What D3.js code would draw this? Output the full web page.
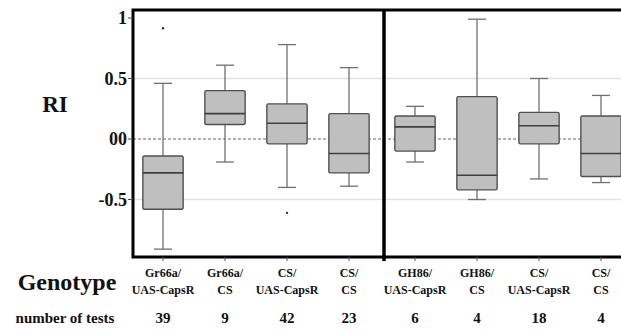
<!DOCTYPE html>
<html>
<head>
<meta charset="utf-8">
<script src="https://cdn.jsdelivr.net/npm/d3@7"></script>
<style>
  body { margin: 0; background: #fff; }
  text { font-family: "Liberation Serif", "Times New Roman", serif; font-weight: bold; fill: #111; }
</style>
</head>
<body>
<svg id="chart" width="621" height="332"></svg>
<script>
// genotypes, panel (0 = Gr66a, 1 = GH86)
var line1 = ["Gr66a/", "Gr66a/", "CS/", "CS/", "GH86/", "GH86/", "CS/", "CS/"]
var line2 = ["UAS-CapsR", "CS", "UAS-CapsR", "CS", "UAS-CapsR", "CS", "UAS-CapsR", "CS"]
var panel = [0, 0, 0, 0, 1, 1, 1, 1]
var nTests = [39, 9, 42, 23, 6, 4, 18, 4]

// box statistics
var whiskLo = [-0.91, -0.19, -0.40, -0.39, -0.19, -0.50, -0.33, -0.36]
var q1      = [-0.58,  0.12, -0.04, -0.28, -0.10, -0.42, -0.04, -0.31]
var median  = [-0.28,  0.21,  0.13, -0.12,  0.10, -0.30,  0.11, -0.12]
var q3      = [-0.14,  0.40,  0.29,  0.21,  0.19,  0.35,  0.22,  0.19]
var whiskHi = [ 0.46,  0.61,  0.78,  0.59,  0.27,  0.99,  0.50,  0.36]
// outliers [index, value]
var outliers = [[0, 0.915], [2, -0.61]]

var yTicks = [1, 0.5, 0, -0.5]
var yTickLabels = ["1", "0.5", "00", "-0.5"]

var svg = d3.select("#chart")
var plotTop = 10, plotBottom = 257, plotLeft = 133, divider = 384, plotRight = 640

var y = d3.scaleLinear().domain([-0.975, 1.066]).range([plotBottom, plotTop])

var idx = d3.range(line1.length)
var xLeft = d3.scaleBand().domain(idx.filter(function(i){ return panel[i] == 0 }))
  .range([132, 380]).paddingInner(0.35).paddingOuter(0.175)
var xRight = d3.scaleBand().domain(idx.filter(function(i){ return panel[i] == 1 }))
  .range([384, 632]).paddingInner(0.35).paddingOuter(0.175)
function xPos(i){ return panel[i] == 0 ? xLeft(i) : xRight(i) }
function xMid(i){ return xPos(i) + xLeft.bandwidth() / 2 }
var bw = xLeft.bandwidth()

// grid lines
svg.append("g").selectAll("line").data([0.5, -0.5]).enter().append("line")
  .attr("x1", plotLeft).attr("x2", plotRight)
  .attr("y1", function(d){ return y(d) }).attr("y2", function(d){ return y(d) })
  .style("stroke", "#e2e2e2").style("stroke-width", 1.5)

// zero line
svg.append("line")
  .attr("x1", plotLeft).attr("x2", plotRight).attr("y1", y(0)).attr("y2", y(0))
  .style("stroke", "#666").style("stroke-width", 1.2).style("stroke-dasharray", "3,2")

// boxes
var g = svg.append("g").selectAll("g").data(idx).enter().append("g")

g.append("line")
  .attr("x1", xMid).attr("x2", xMid)
  .attr("y1", function(i){ return y(whiskHi[i]) }).attr("y2", function(i){ return y(whiskLo[i]) })
  .style("stroke", "#707070").style("stroke-width", 1.3)

g.selectAll(".cap").data(function(i){ return [[i, whiskHi[i]], [i, whiskLo[i]]] }).enter().append("line")
  .attr("x1", function(d){ return xMid(d[0]) - 9 }).attr("x2", function(d){ return xMid(d[0]) + 9 })
  .attr("y1", function(d){ return y(d[1]) }).attr("y2", function(d){ return y(d[1]) })
  .style("stroke", "#707070").style("stroke-width", 1.3)

g.append("rect")
  .attr("x", xPos).attr("width", bw)
  .attr("y", function(i){ return y(q3[i]) })
  .attr("height", function(i){ return y(q1[i]) - y(q3[i]) })
  .attr("rx", 1.5)
  .style("fill", "#bfbfbf").style("stroke", "#505050").style("stroke-width", 1.4)

g.append("line")
  .attr("x1", xPos).attr("x2", function(i){ return xPos(i) + bw })
  .attr("y1", function(i){ return y(median[i]) }).attr("y2", function(i){ return y(median[i]) })
  .style("stroke", "#404040").style("stroke-width", 1.6)

svg.append("g").selectAll("circle").data(outliers).enter().append("circle")
  .attr("cx", function(d){ return xMid(d[0]) }).attr("cy", function(d){ return y(d[1]) })
  .attr("r", 1.2).style("fill", "#333")

// frame
svg.append("path")
  .attr("d", "M" + plotRight + "," + plotTop + "H" + plotLeft + "V" + plotBottom + "H" + plotRight)
  .style("fill", "none").style("stroke", "#000").style("stroke-width", 3)
svg.append("line")
  .attr("x1", divider).attr("x2", divider).attr("y1", plotTop).attr("y2", plotBottom + 4)
  .style("stroke", "#000").style("stroke-width", 3.5)

// y axis
var yAxis = svg.append("g")
yAxis.selectAll("line").data(yTicks).enter().append("line")
  .attr("x1", plotLeft - 5).attr("x2", plotLeft)
  .attr("y1", function(d){ return y(d) }).attr("y2", function(d){ return y(d) })
  .style("stroke", "#444").style("stroke-width", 1)
yAxis.selectAll("text").data(yTicks).enter().append("text")
  .attr("x", plotLeft - 6).attr("y", function(d){ return y(d) })
  .attr("dy", "0.35em").attr("text-anchor", "end")
  .style("font-size", "18px")
  .text(function(d, i){ return yTickLabels[i] })

svg.append("text").attr("x", 55).attr("y", 112).attr("text-anchor", "middle")
  .style("font-size", "23px").text("RI")

// x ticks and labels
svg.append("g").selectAll("line").data(idx).enter().append("line")
  .attr("x1", xMid).attr("x2", xMid).attr("y1", plotBottom).attr("y2", plotBottom + 4)
  .style("stroke", "#555").style("stroke-width", 1)

var lab = svg.append("g").selectAll("text").data(idx).enter().append("text")
  .attr("text-anchor", "middle").style("font-size", "12px")
lab.append("tspan").attr("x", xMid).attr("y", 277).text(function(i){ return line1[i] })
lab.append("tspan").attr("x", xMid).attr("y", 294).text(function(i){ return line2[i] })

svg.append("g").selectAll("text").data(idx).enter().append("text")
  .attr("x", xMid).attr("y", 323).attr("text-anchor", "middle")
  .style("font-size", "15px").text(function(i){ return nTests[i] })

svg.append("text").attr("x", 67).attr("y", 290).attr("text-anchor", "middle")
  .style("font-size", "24px").text("Genotype")
svg.append("text").attr("x", 65).attr("y", 323).attr("text-anchor", "middle")
  .style("font-size", "15px").text("number of tests")
</script>
</body>
</html>
